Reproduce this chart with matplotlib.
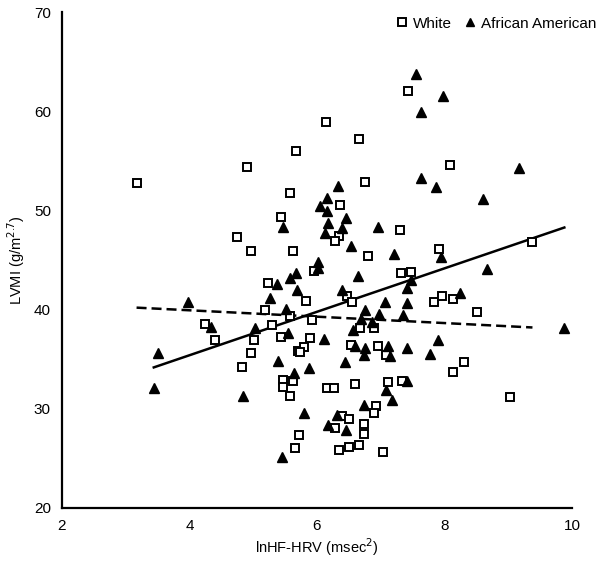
#! /usr/bin/env python3

import matplotlib
matplotlib.use("Agg")
import matplotlib.pyplot as plt
import numpy as np

plt.rcParams['font.family'] = ['Liberation Sans', 'DejaVu Sans']

# White participants (open squares)
white_hrv = [3.17, 4.91, 5.67, 5.58, 5.44, 4.74, 4.96, 5.63, 7.43, 6.14,
             6.66, 8.09, 6.75, 6.36, 6.35, 6.28, 7.30, 6.80, 7.91, 9.38,
             5.23, 5.18, 5.57, 4.24, 5.30, 4.40, 5.01, 5.43, 4.96, 5.71,
             4.82, 5.46, 5.62, 5.46, 5.57, 5.96, 7.32, 7.48, 6.47, 6.55,
             5.83, 7.84, 7.96, 8.13, 8.51, 5.92, 6.67, 6.90, 5.89, 5.79,
             5.74, 6.53, 6.95, 7.09, 8.30, 8.13, 6.15, 6.27, 6.59, 7.11,
             7.34, 6.93, 6.89, 6.40, 6.50, 9.02, 5.72, 5.65, 6.29, 6.74,
             6.74, 6.35, 6.51, 6.66, 7.03]
white_lvmi = [52.8, 54.4, 56.0, 51.8, 49.3, 47.3, 45.9, 45.9, 62.0, 58.9,
              57.2, 54.6, 52.9, 50.5, 47.4, 46.9, 48.0, 45.4, 46.1, 46.8,
              42.7, 40.0, 39.4, 38.5, 38.4, 36.9, 36.9, 37.2, 35.6, 35.8,
              34.2, 32.9, 32.8, 32.2, 31.3, 43.9, 43.7, 43.8, 41.4, 40.8,
              40.9, 40.8, 41.4, 41.1, 39.8, 39.0, 38.1, 38.1, 37.1, 36.2,
              35.7, 36.4, 36.3, 35.4, 34.7, 33.7, 32.1, 32.1, 32.5, 32.7,
              32.8, 30.3, 29.6, 29.3, 29.0, 31.2, 27.4, 26.0, 28.1, 28.5,
              27.5, 25.8, 26.1, 26.3, 25.6]

# African American participants (filled triangles)
aa_hrv = [5.46, 7.55, 7.98, 7.63, 7.63, 7.87, 6.33, 6.15, 6.05, 6.16,
          6.46, 6.17, 6.39, 6.12, 6.95, 6.54, 7.21, 7.95, 6.02, 9.17,
          8.61, 5.67, 5.38, 5.58, 5.69, 5.27, 3.98, 5.51, 4.34, 5.03,
          5.55, 3.50, 5.39, 5.64, 3.44, 4.84, 6.01, 6.64, 7.47, 7.41,
          6.39, 7.07, 7.41, 8.25, 6.76, 6.98, 7.35, 6.69, 6.86, 6.57,
          6.11, 7.90, 6.59, 6.75, 7.12, 7.41, 6.73, 7.14, 7.77, 6.44,
          5.87, 7.41, 7.08, 7.18, 6.73, 5.80, 6.31, 6.17, 6.45, 5.45,
          8.66, 9.88]
aa_lvmi = [48.3, 63.8, 61.5, 59.9, 53.3, 52.4, 52.5, 51.3, 50.4, 49.9,
           49.2, 48.7, 48.2, 47.7, 48.3, 46.4, 45.6, 45.3, 44.8, 54.3,
           51.2, 43.7, 42.6, 43.2, 42.0, 41.2, 40.8, 40.1, 38.2, 38.1,
           37.6, 35.6, 34.8, 33.6, 32.1, 31.3, 44.2, 43.4, 43.0, 42.2,
           42.0, 40.8, 40.7, 41.7, 40.0, 39.6, 39.5, 39.1, 38.8, 37.9,
           37.0, 36.9, 36.3, 36.1, 36.3, 36.1, 35.4, 35.3, 35.5, 34.7,
           34.1, 32.8, 31.9, 30.9, 30.4, 29.6, 29.4, 28.4, 27.9, 25.1,
           44.1, 38.1]

# fitted lines (slope, intercept) as drawn in the figure
white_fit = (-0.322, 41.22)
aa_fit = (2.19, 26.64)

fig = plt.figure(figsize=(6.04, 5.61), dpi=100)
ax = fig.add_axes([0.1026, 0.0945, 0.8444, 0.884])

ax.plot(white_hrv, white_lvmi, linestyle='none', marker='s', markersize=6,
        markerfacecolor='white', markeredgecolor='black', markeredgewidth=1.4,
        label='White', zorder=3)
ax.plot(aa_hrv, aa_lvmi, linestyle='none', marker='^', markersize=7.5,
        color='black', label='African American', zorder=3)

xw = np.array([min(white_hrv), max(white_hrv)])
ax.plot(xw, white_fit[0] * xw + white_fit[1], color='black', linewidth=1.8,
        linestyle=(0, (4, 2)), zorder=2)
xa = np.array([min(aa_hrv), max(aa_hrv)])
ax.plot(xa, aa_fit[0] * xa + aa_fit[1], color='black', linewidth=1.8, zorder=2)

ax.set_xlim(2, 10)
ax.set_ylim(20, 70)
ax.set_xticks([2, 4, 6, 8, 10])
ax.set_yticks([20, 30, 40, 50, 60, 70])
ax.tick_params(length=0, labelsize=11, pad=8)
ax.spines['top'].set_visible(False)
ax.spines['right'].set_visible(False)
ax.spines['left'].set_linewidth(1.6)
ax.spines['bottom'].set_linewidth(1.6)

ax.set_xlabel('lnHF-HRV (msec$^2$)', fontsize=10.5, labelpad=2)
ax.set_ylabel('LVMI (g/m$^{2.7}$)', fontsize=10.5, labelpad=5)

fig.legend(loc='upper right', bbox_to_anchor=(1.01, 0.995), ncol=2,
           frameon=False, fontsize=11, handletextpad=0.2,
           columnspacing=0.7, handlelength=1.0, markerscale=0.85)

plt.savefig("out.png")
